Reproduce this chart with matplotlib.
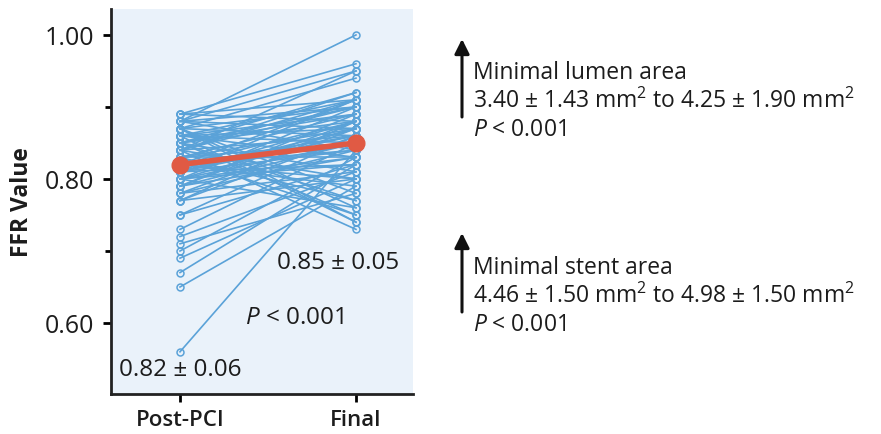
import matplotlib
matplotlib.use("Agg")
import matplotlib.pyplot as plt
from matplotlib.ticker import MultipleLocator

plt.rcParams['font.family'] = ['Open Sans', 'DejaVu Sans']
plt.rcParams['font.weight'] = 'medium'
plt.rcParams['mathtext.fontset'] = 'custom'
plt.rcParams['mathtext.it'] = 'Open Sans:italic:medium'
plt.rcParams['mathtext.rm'] = 'Open Sans:medium'

categories = ["Post-PCI", "Final"]
post_pci = [0.56, 0.65, 0.67, 0.69, 0.70, 0.71, 0.72, 0.73, 0.75, 0.75,
            0.77, 0.77, 0.78, 0.78, 0.79, 0.79, 0.80, 0.80, 0.80, 0.81,
            0.81, 0.81, 0.82, 0.82, 0.82, 0.83, 0.83, 0.83, 0.84, 0.84,
            0.84, 0.85, 0.85, 0.85, 0.86, 0.86, 0.86, 0.87, 0.87, 0.87,
            0.88, 0.88, 0.88, 0.89, 0.89, 0.85, 0.84, 0.86, 0.87, 0.83,
            0.82, 0.81, 0.80, 0.79, 0.78, 0.88, 0.89, 0.86, 0.85, 0.84,
            0.83, 0.82, 0.87, 0.85, 0.88, 0.84, 0.81, 0.86, 0.83, 0.80,
            0.77, 0.79, 0.82, 0.85, 0.87, 0.81, 0.84, 0.80]
final = [0.84, 0.79, 0.82, 0.80, 0.83, 0.78, 0.81, 0.85, 0.86, 0.82,
         0.88, 0.80, 0.84, 0.87, 0.83, 0.89, 0.85, 0.76, 0.90, 0.86,
         0.82, 0.88, 0.84, 0.91, 0.79, 0.87, 0.85, 0.75, 0.90, 0.86,
         0.73, 0.88, 0.92, 0.81, 0.89, 0.74, 0.91, 0.90, 0.86, 0.94,
         1.00, 0.87, 0.95, 0.96, 0.91, 0.77, 0.80, 0.83, 0.78, 0.89,
         0.86, 0.84, 0.87, 0.85, 0.81, 0.84, 0.88, 0.85, 0.90, 0.92,
         0.83, 0.88, 0.74, 0.75, 0.90, 0.95, 0.91, 0.87, 0.77, 0.82,
         0.86, 0.88, 0.80, 0.89, 0.76, 0.87, 0.91, 0.83]
mean_values = [0.82, 0.85]
mean_labels = ["0.82 \u00b1 0.06", "0.85 \u00b1 0.05"]
p_label = "$P$ < 0.001"
yticks = [0.60, 0.80, 1.00]
mla_lines = ["Minimal lumen area", "3.40 \u00b1 1.43 mm$^2$ to 4.25 \u00b1 1.90 mm$^2$", "$P$ < 0.001"]
msa_lines = ["Minimal stent area", "4.46 \u00b1 1.50 mm$^2$ to 4.98 \u00b1 1.50 mm$^2$", "$P$ < 0.001"]

W, H = 881, 435
fig = plt.figure(figsize=(W / 100, H / 100), dpi=100)
ax = fig.add_axes([111 / W, 1 - 395 / H, (413 - 111) / W, (395 - 10) / H])
ax.set_facecolor('#EAF2FA')

blue = '#5AA2D8'
red = '#E05A44'
txt = '#1c1c1c'
x = [0, 1]
for a, b in zip(post_pci, final):
    ax.plot(x, [a, b], color=blue, lw=1.2, marker='o', ms=5, mfc='none',
            mec=blue, mew=1.1, zorder=2)
ax.plot(x, mean_values, color=red, lw=4, marker='o', ms=12, zorder=3)

ax.set_xlim(-0.392, 1.324)
ax.set_ylim(0.5014, 1.036)
ax.set_xticks(x)
ax.set_xticklabels(categories, fontsize=16, fontweight='semibold', color=txt)
ax.set_yticks(yticks)
ax.set_yticklabels([f"{v:.2f}" for v in yticks], fontsize=18, color=txt)
ax.yaxis.set_minor_locator(MultipleLocator(0.1))
ax.tick_params(axis='y', which='major', length=6, width=2, pad=6)
ax.tick_params(axis='y', which='minor', length=4, width=2)
ax.tick_params(axis='x', which='major', length=6, width=2, pad=5)
for s in ['top', 'right']:
    ax.spines[s].set_visible(False)
for s in ['left', 'bottom']:
    ax.spines[s].set_linewidth(2)
    ax.spines[s].set_color('#222222')
ax.set_ylabel("FFR Value", fontsize=16.5, fontweight='bold', labelpad=8, color=txt)

ax.text(0.0, 0.536, mean_labels[0], fontsize=17.5, ha='center', va='center', color=txt)
ax.text(0.90, 0.685, mean_labels[1], fontsize=17.5, ha='center', va='center', color=txt)
ax.text(0.65, 0.608, p_label, fontsize=17.5, ha='center', va='center', color=txt)

def px(xp, yp):
    return xp / W, 1 - yp / H

for lines, y0, ya, yb in [(mla_lines, 73, 118, 40), (msa_lines, 268, 313, 234)]:
    for i, t in enumerate(lines):
        fig.text(*px(473, y0 + i * 28.5), t, fontsize=16.5, ha='left', va='center', color=txt)
    fig.add_artist(matplotlib.patches.FancyArrowPatch(px(462, ya), px(462, yb),
                   transform=fig.transFigure, arrowstyle='-|>', mutation_scale=22,
                   color='#111111', lw=2.2, shrinkA=0, shrinkB=0))

fig.savefig("out.png", dpi=100)
